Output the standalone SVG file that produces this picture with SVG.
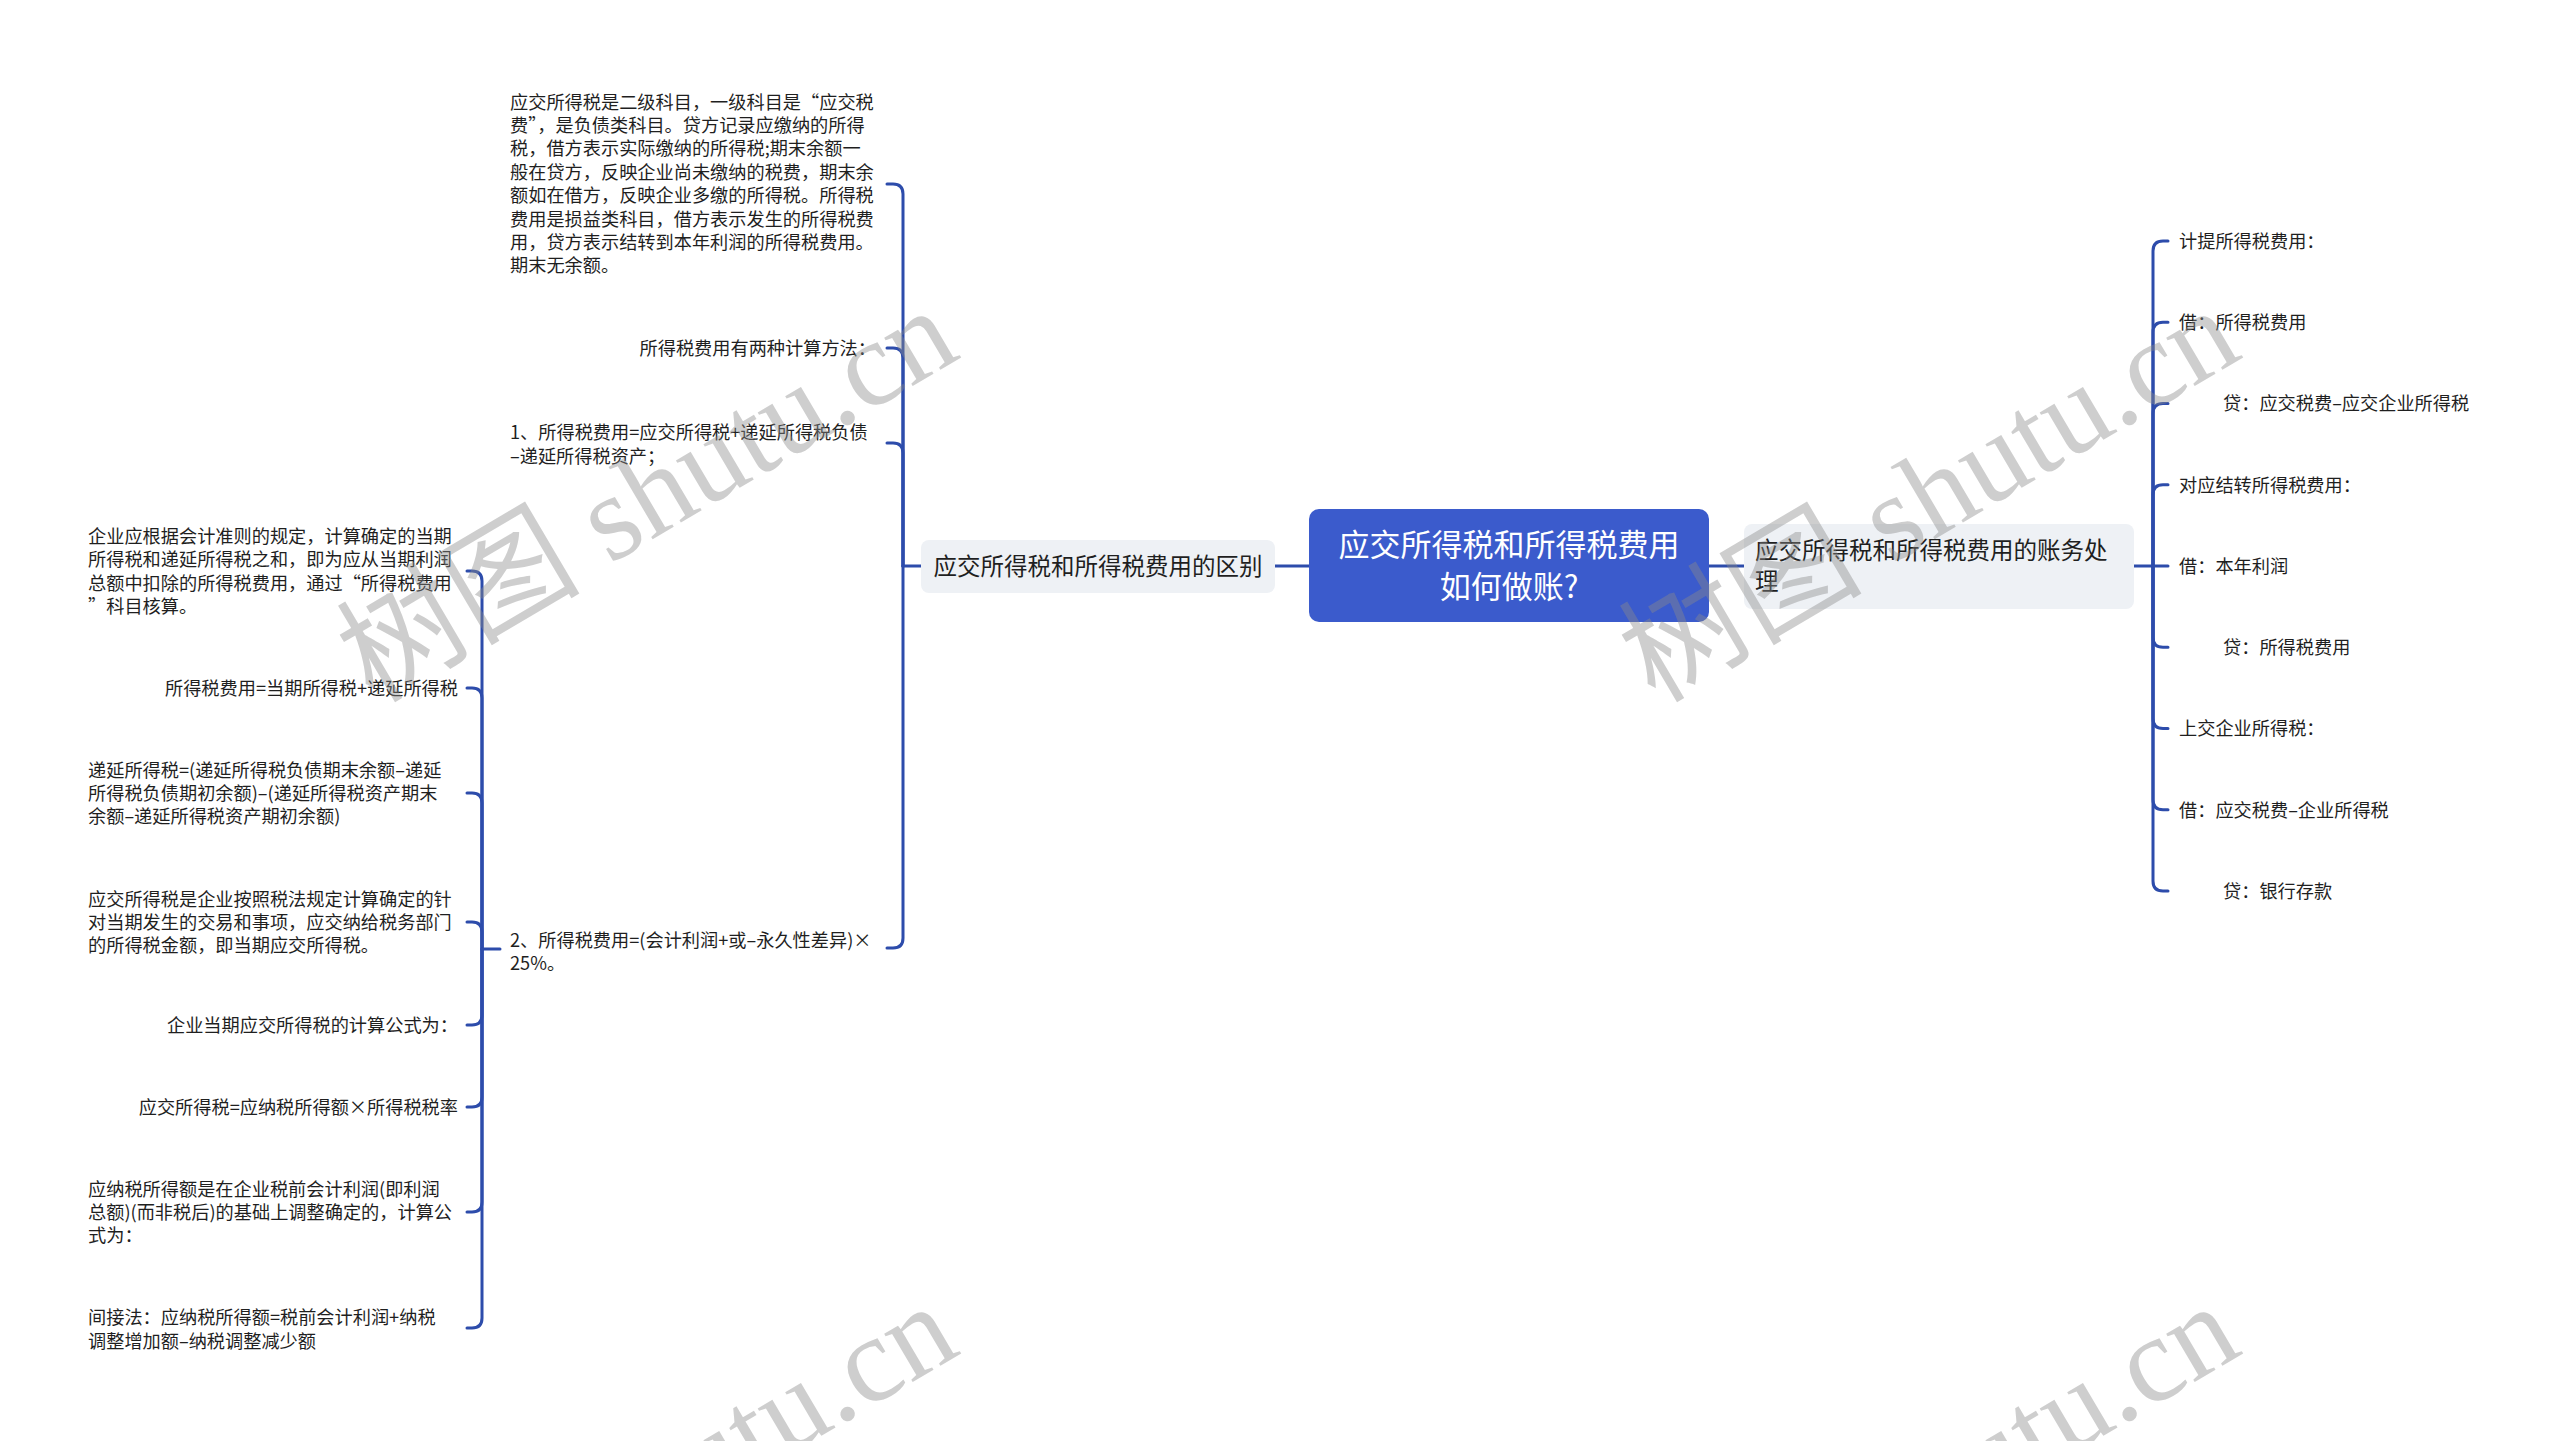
<svg xmlns="http://www.w3.org/2000/svg" width="2560" height="1441" viewBox="0 0 2560 1441">
<style>
.bg{fill:#ffffff}
.t{font-family:"Noto Sans CJK SC","Liberation Sans",sans-serif;font-size:18.2px;fill:#1f1f1f}
.e{text-anchor:end}
.br{font-family:"Noto Sans CJK SC","Liberation Sans",sans-serif;font-size:23.5px;fill:#1f1f1f}
.ct{font-family:"Noto Sans CJK SC","Liberation Sans",sans-serif;font-size:31px;fill:#ffffff;text-anchor:middle}
.c{fill:none;stroke:#2d4cab;stroke-width:3;stroke-linecap:round}
.bn{fill:#eef1f5}
.wm{font-family:"Liberation Serif","Noto Sans CJK SC",serif;font-size:122px;fill:#8a8a8a;fill-opacity:0.42}
</style>
<rect class="bg" x="0" y="0" width="2560" height="1441"/>

<g id="connectors">
<path class="c" d="M1275,566 H1309"/>
<path class="c" d="M1709,566 H1744"/>
<path class="c" d="M921,566 H903"/>
<path class="c" d="M903,566 V194 Q903,184 893,184 H887"/>
<path class="c" d="M903,566 V358 Q903,348 893,348 H887"/>
<path class="c" d="M903,566 V453 Q903,443 893,443 H887"/>
<path class="c" d="M903,566 V938 Q903,948 893,948 H887"/>
<path class="c" d="M500,949 H482"/>
<path class="c" d="M482,949 V581 Q482,571 472,571 H467"/>
<path class="c" d="M482,949 V698 Q482,688 472,688 H467"/>
<path class="c" d="M482,949 V803 Q482,793 472,793 H467"/>
<path class="c" d="M482,949 V932 Q482,922 472,922 H467"/>
<path class="c" d="M482,949 V1015 Q482,1025 472,1025 H467"/>
<path class="c" d="M482,949 V1097 Q482,1107 472,1107 H467"/>
<path class="c" d="M482,949 V1202 Q482,1212 472,1212 H467"/>
<path class="c" d="M482,949 V1318 Q482,1328 472,1328 H467"/>
<path class="c" d="M2134,566 H2153"/>
<path class="c" d="M2153,566 V251 Q2153,241 2163,241 H2168"/>
<path class="c" d="M2153,566 V332.25 Q2153,322.25 2163,322.25 H2168"/>
<path class="c" d="M2153,566 V413.5 Q2153,403.5 2163,403.5 H2168"/>
<path class="c" d="M2153,566 V494.75 Q2153,484.75 2163,484.75 H2168"/>
<path class="c" d="M2153,566 H2168"/>
<path class="c" d="M2153,566 V637.25 Q2153,647.25 2163,647.25 H2168"/>
<path class="c" d="M2153,566 V718.5 Q2153,728.5 2163,728.5 H2168"/>
<path class="c" d="M2153,566 V799.75 Q2153,809.75 2163,809.75 H2168"/>
<path class="c" d="M2153,566 V881 Q2153,891 2163,891 H2168"/>
</g>

<g id="root">
<rect x="1309" y="509" width="400" height="113" rx="10" fill="#3b5bcc"/>
<text class="ct" x="1509" y="555.5">应交所得税和所得税费用</text>
<text class="ct" x="1509" y="597.5">如何做账?</text>
</g>

<g id="branch-left">
<rect class="bn" x="921" y="540" width="354" height="53" rx="8"/>
<text class="br" x="1098" y="574.7" text-anchor="middle">应交所得税和所得税费用的区别</text>
</g>

<g id="branch-right">
<rect class="bn" x="1744" y="524" width="390" height="85" rx="8"/>
<text class="br" x="1755" y="558.5">应交所得税和所得税费用的账务处</text>
<text class="br" x="1755" y="589.5">理</text>
</g>

<g id="m1">
<text class="t" x="510" y="108.5">应交所得税是二级科目，一级科目是“应交税</text>
<text class="t" x="510" y="131.9">费”，是负债类科目。贷方记录应缴纳的所得</text>
<text class="t" x="510" y="155.3">税，借方表示实际缴纳的所得税;期末余额一</text>
<text class="t" x="510" y="178.7">般在贷方，反映企业尚未缴纳的税费，期末余</text>
<text class="t" x="510" y="202.1">额如在借方，反映企业多缴的所得税。所得税</text>
<text class="t" x="510" y="225.5">费用是损益类科目，借方表示发生的所得税费</text>
<text class="t" x="510" y="248.9">用，贷方表示结转到本年利润的所得税费用。</text>
<text class="t" x="510" y="272.3">期末无余额。</text>
</g>
<g id="m2"><text class="t e" x="876" y="355">所得税费用有两种计算方法：</text></g>
<g id="m3">
<text class="t" x="510" y="439.2">1、所得税费用=应交所得税+递延所得税负债</text>
<text class="t" x="510" y="462.6">–递延所得税资产；</text>
</g>
<g id="m4">
<text class="t" x="510" y="946.9">2、所得税费用=(会计利润+或–永久性差异)×</text>
<text class="t" x="510" y="970.3">25%。</text>
</g>

<g id="l1">
<text class="t" x="88" y="542.8">企业应根据会计准则的规定，计算确定的当期</text>
<text class="t" x="88" y="566.2">所得税和递延所得税之和，即为应从当期利润</text>
<text class="t" x="88" y="589.6">总额中扣除的所得税费用，通过“所得税费用</text>
<text class="t" x="88" y="613">”科目核算。</text>
</g>
<g id="l2"><text class="t e" x="458" y="695">所得税费用=当期所得税+递延所得税</text></g>
<g id="l3">
<text class="t" x="88" y="776.5">递延所得税=(递延所得税负债期末余额–递延</text>
<text class="t" x="88" y="799.9">所得税负债期初余额)–(递延所得税资产期末</text>
<text class="t" x="88" y="823.3">余额–递延所得税资产期初余额)</text>
</g>
<g id="l4">
<text class="t" x="88" y="905.5">应交所得税是企业按照税法规定计算确定的针</text>
<text class="t" x="88" y="928.9">对当期发生的交易和事项，应交纳给税务部门</text>
<text class="t" x="88" y="952.3">的所得税金额，即当期应交所得税。</text>
</g>
<g id="l5"><text class="t e" x="458" y="1032">企业当期应交所得税的计算公式为：</text></g>
<g id="l6"><text class="t e" x="458" y="1114">应交所得税=应纳税所得额×所得税税率</text></g>
<g id="l7">
<text class="t" x="88" y="1195.5">应纳税所得额是在企业税前会计利润(即利润</text>
<text class="t" x="88" y="1218.9">总额)(而非税后)的基础上调整确定的，计算公</text>
<text class="t" x="88" y="1242.3">式为：</text>
</g>
<g id="l8">
<text class="t" x="88" y="1324.2">间接法：应纳税所得额=税前会计利润+纳税</text>
<text class="t" x="88" y="1347.6">调整增加额–纳税调整减少额</text>
</g>

<g id="r1"><text class="t" x="2179" y="247.9">计提所得税费用：</text></g>
<g id="r2"><text class="t" x="2179" y="329.1">借：所得税费用</text></g>
<g id="r3"><text class="t" x="2223" y="410.4">贷：应交税费–应交企业所得税</text></g>
<g id="r4"><text class="t" x="2179" y="491.6">对应结转所得税费用：</text></g>
<g id="r5"><text class="t" x="2179" y="572.9">借：本年利润</text></g>
<g id="r6"><text class="t" x="2223" y="654.1">贷：所得税费用</text></g>
<g id="r7"><text class="t" x="2179" y="735.4">上交企业所得税：</text></g>
<g id="r8"><text class="t" x="2179" y="816.6">借：应交税费–企业所得税</text></g>
<g id="r9"><text class="t" x="2223" y="897.9">贷：银行存款</text></g>

<g id="watermarks">
<text class="wm" transform="translate(373,704) rotate(-30.5)">树图 shutu.cn</text>
<text class="wm" transform="translate(1655,704) rotate(-30.5)">树图 shutu.cn</text>
<text class="wm" transform="translate(373,1700) rotate(-30.5)">树图 shutu.cn</text>
<text class="wm" transform="translate(1655,1700) rotate(-30.5)">树图 shutu.cn</text>
</g>
</svg>
